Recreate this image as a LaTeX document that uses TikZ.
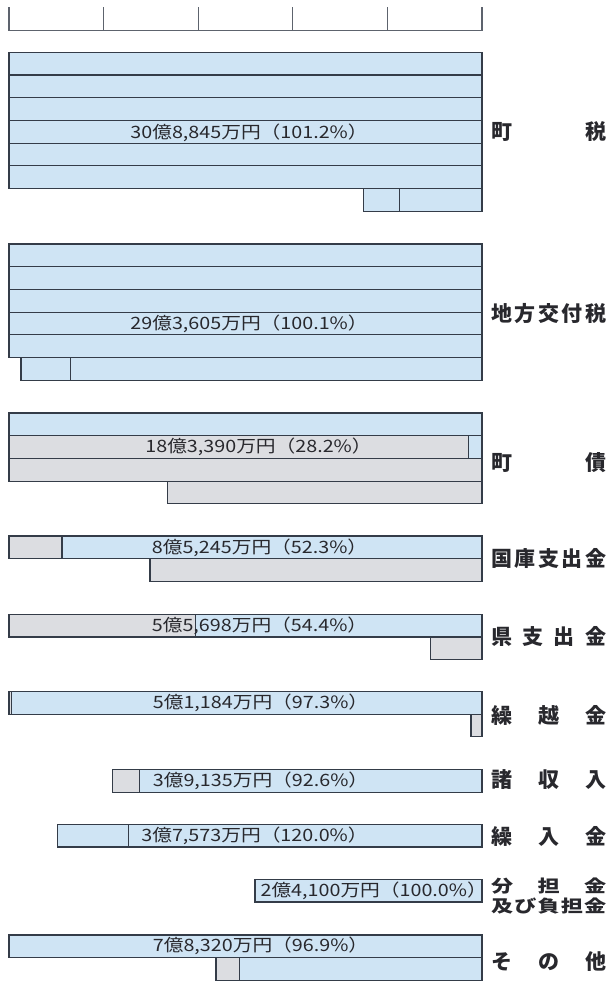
\documentclass[tikz,border=0pt]{standalone}
\usepackage{fontspec}
\usepackage{graphicx}
\newfontfamily\jp{Noto Sans CJK JP}
\definecolor{barblue}{RGB}{207,228,244}
\definecolor{bargray}{RGB}{220,221,225}
\definecolor{edge}{RGB}{52,60,72}
\definecolor{txt}{RGB}{40,40,45}
\newcommand{\vtxt}[1]{\scalebox{1.16}[1]{#1}}
\newcommand{\spread}[1]{\makebox[115pt]{#1}}
\newcommand{\spreadwide}[1]{\scalebox{1.3}[1]{\makebox[88.5pt]{#1}}}
\begin{document}
\begin{tikzpicture}[x=1pt,y=-1pt,
  bb/.style={fill=barblue,draw=edge,line width=1.1pt},
  gb/.style={fill=bargray,draw=edge,line width=1.1pt},
  axisline/.style={draw=edge!80,line width=1.1pt},
  val/.style={font=\jp\fontsize{17}{17}\selectfont,text=txt,inner sep=0pt},
  lab/.style={font=\jp\bfseries\fontsize{21}{21}\selectfont,text=txt,inner sep=0pt,anchor=west},
  labsmall/.style={font=\jp\bfseries\fontsize{17}{17}\selectfont,text=txt,inner sep=0pt,anchor=west}]
\useasboundingbox (0,0) rectangle (608,981);
% axis
\draw[axisline] (9,7.5) -- (9,30.7) -- (482,30.7) -- (482,7.5);
\foreach \i in {1,...,4} \draw[axisline] ({9+94.6*\i},7.5) -- ({9+94.6*\i},30.7);
% 町税
\foreach \k in {0,...,5} \draw[bb] (9,{52.3+\k*22.7}) rectangle (482,{75+\k*22.7});
\draw[bb] (363.5,188.5) rectangle (399.5,211.2);
\draw[bb] (399.5,188.5) rectangle (482,211.2);
\node[val] (t1) at (249,132.6) {\vtxt{30億8,845万円（101.2\%）}};
\node[lab] (l1) at (491,132) {\spread{町\hfill 税}};
% 地方交付税
\foreach \k in {0,...,4} \draw[bb] (9,{244+\k*22.7}) rectangle (482,{266.7+\k*22.7});
\draw[bb] (21,357.5) rectangle (70.3,380.2);
\draw[bb] (70.3,357.5) rectangle (482,380.2);
\node[val] (t2) at (249,323.5) {\vtxt{29億3,605万円（100.1\%）}};
\node[lab] (l2) at (491,314) {\spread{地\hfill 方\hfill 交\hfill 付\hfill 税}};
% 町債
\draw[bb] (9,413) rectangle (482,435.7);
\draw[gb] (9,435.7) rectangle (468.3,458.4);
\draw[bb] (468.3,435.7) rectangle (482,458.4);
\draw[gb] (9,458.4) rectangle (482,481.1);
\draw[gb] (167.4,481.1) rectangle (482,503.8);
\node[val] (t3) at (258.5,447) {\vtxt{18億3,390万円（28.2\%）}};
\node[lab] (l3) at (491,463) {\spread{町\hfill 債}};
% 国庫支出金
\draw[gb] (9,536) rectangle (62,558.7);
\draw[bb] (62,536) rectangle (482,558.7);
\draw[gb] (150,558.7) rectangle (482,581.4);
\node[val] (t4) at (259.5,547.4) {\vtxt{8億5,245万円（52.3\%）}};
\node[lab] (l4) at (491,558) {\spread{国\hfill 庫\hfill 支\hfill 出\hfill 金}};
% 県支出金
\draw[gb] (9,614.3) rectangle (195.7,637);
\draw[bb] (195.7,614.3) rectangle (482,637);
\draw[gb] (430.2,637) rectangle (482,659.7);
\node[val] (t5) at (259.5,625.6) {\vtxt{5億5,698万円（54.4\%）}};
\node[lab] (l5) at (491,636) {\spread{県\hfill 支\hfill 出\hfill 金}};
% 繰越金
\draw[gb] (9,691.5) rectangle (11.5,714.2);
\draw[bb] (11.5,691.5) rectangle (482,714.2);
\draw[gb] (471,714.2) rectangle (482,736.9);
\node[val] (t6) at (260.5,702.8) {\vtxt{5億1,184万円（97.3\%）}};
\node[lab] (l6) at (491,715) {\spread{繰\hfill 越\hfill 金}};
% 諸収入
\draw[gb] (112.4,769.5) rectangle (139.5,792.2);
\draw[bb] (139.5,769.5) rectangle (482,792.2);
\node[val] (t7) at (260.5,780.8) {\vtxt{3億9,135万円（92.6\%）}};
\node[lab] (l7) at (491,780) {\spread{諸\hfill 収\hfill 入}};
% 繰入金
\draw[bb] (57.4,824.3) rectangle (128.7,847);
\draw[bb] (128.7,824.3) rectangle (482,847);
\node[val] (t8) at (254.5,835.6) {\vtxt{3億7,573万円（120.0\%）}};
\node[lab] (l8) at (491,836.5) {\spread{繰\hfill 入\hfill 金}};
% 分担金及び負担金
\draw[bb] (255,879.3) rectangle (482,902);
\node[val,anchor=east] (t9) at (487,890.6) {\vtxt{2億4,100万円（100.0\%）}};
\node[labsmall] (l9a) at (491,886) {\spreadwide{分\hfill 担\hfill 金}};
\node[labsmall] (l9b) at (491,906) {\spreadwide{及\hfill び\hfill 負\hfill 担\hfill 金}};
% その他
\draw[bb] (9,935) rectangle (482,957.7);
\draw[gb] (216,957.7) rectangle (239.5,980.4);
\draw[bb] (239.5,957.7) rectangle (482,980.4);
\node[val] (t10) at (260.5,946.3) {\vtxt{7億8,320万円（96.9\%）}};
\node[lab] (l10) at (491,962) {\spread{そ\hfill の\hfill 他}};
\end{tikzpicture}
\end{document}
